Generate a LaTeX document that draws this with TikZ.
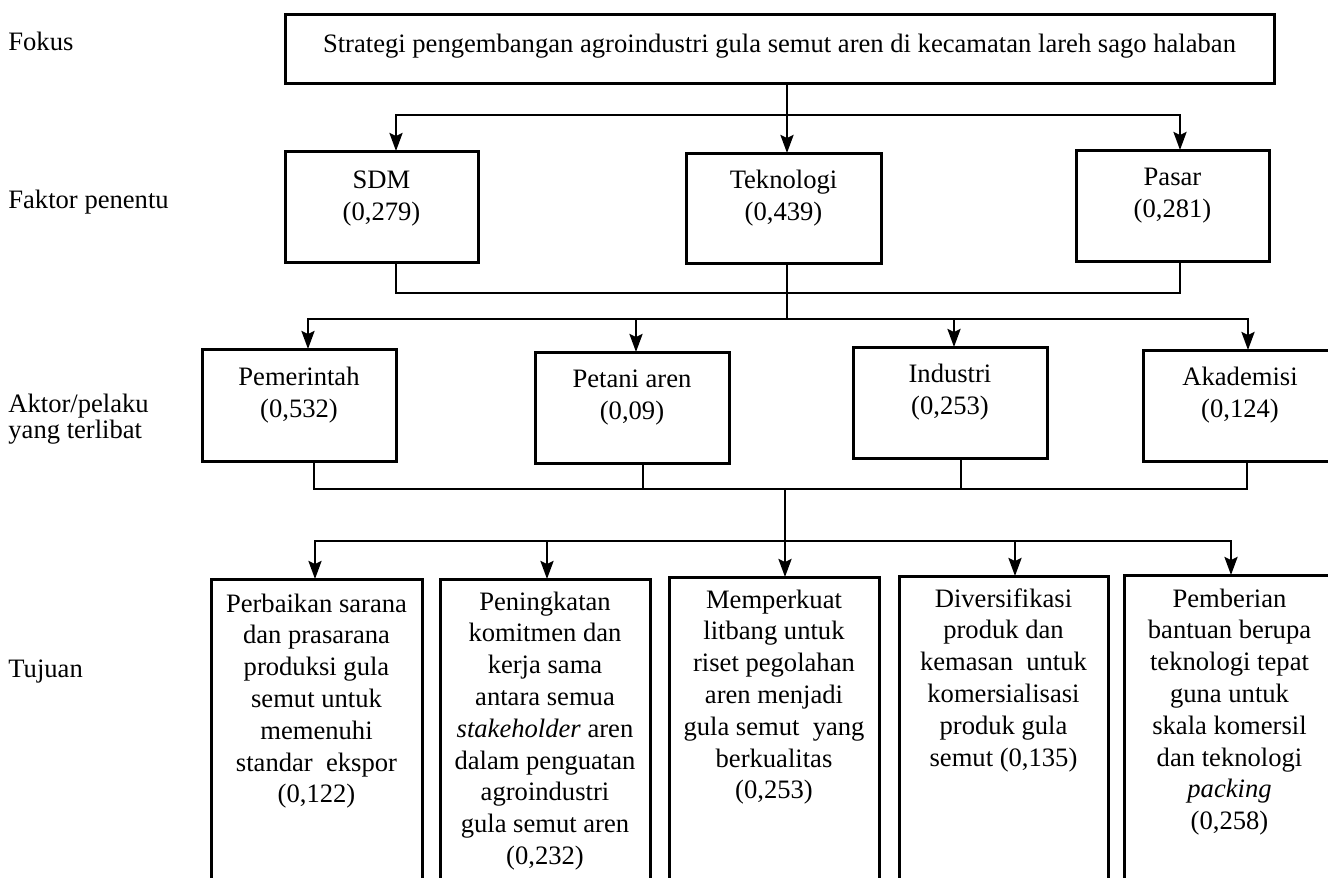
\documentclass[tikz,border=0pt]{standalone}
\usepackage{fontspec}
\setmainfont{Liberation Serif}
\usetikzlibrary{arrows.meta}
\newcommand\bxt[4]{\parbox[c][#2][t]{#1}{\centering\rule{0pt}{#3}#4}}
\begin{document}
\begin{tikzpicture}[x=0.5pt,y=-0.5pt,
  every node/.style={font=\fontsize{13.3pt}{16pt}\selectfont},
  box/.style={draw, line width=1.5pt, inner sep=0pt, outer sep=0pt, anchor=north west},
  tbx/.style={box, font=\fontsize{13.3pt}{15.9pt}\selectfont},
  conn/.style={line width=1.3pt, line cap=rect},
  arr/.style={line width=1.3pt, -{Stealth[length=9pt,width=6.5pt,inset=1.5pt]}},
  lbl/.style={anchor=base west, inner sep=0pt}]
\useasboundingbox (0,0) rectangle (1328,878);
\fill[white] (0,0) rectangle (1328,878);
\clip (0,0) rectangle (1328,878);

% left labels
\node[lbl] (lfok) at (8,50) {Fokus};
\node[lbl] (lfak) at (8,208) {Faktor penentu};
\node[lbl] (lakt) at (8,412) {\parbox[t]{120pt}{\baselineskip=11.6pt Aktor/pelaku\\yang terlibat}};
\node[lbl] (ltuj) at (8,677) {Tujuan};

% focus
\node[box] (focus) at (285,14) {\bxt{494.5pt}{34.5pt}{19pt}{Strategi pengembangan agroindustri gula semut aren di kecamatan lareh sago halaban}};

% factors
\node[box] (sdm) at (285,151) {\bxt{96.5pt}{55.5pt}{18.5pt}{SDM\\(0,279)}};
\node[box] (tek) at (686,153) {\bxt{97.5pt}{55pt}{17.5pt}{Teknologi\\(0,439)}};
\node[box] (pasar) at (1076,150) {\bxt{96.5pt}{55.5pt}{17.5pt}{Pasar\\(0,281)}};

% actors
\node[box] (pem) at (202,349) {\bxt{97pt}{56pt}{18pt}{Pemerintah\\(0,532)}};
\node[box] (pet) at (535,352) {\bxt{97pt}{55.5pt}{17.5pt}{Petani aren\\(0,09)}};
\node[box] (ind) at (853,347) {\bxt{97pt}{55.5pt}{17.5pt}{Industri\\(0,253)}};
\node[box] (aka) at (1143,350) {\bxt{97pt}{55.5pt}{17.5pt}{Akademisi\\(0,124)}};

% goals
\node[tbx] (t1) at (211,579) {\bxt{105.5pt}{165pt}{16.5pt}{Perbaikan sarana\\dan prasarana\\produksi gula\\semut untuk\\memenuhi\\standar\ \ ekspor\\(0,122)}};
\node[tbx] (t2) at (440,579) {\bxt{105pt}{165pt}{15.5pt}{Peningkatan\\komitmen dan\\kerja sama\\antara semua\\\textit{stakeholder} aren\\dalam penguatan\\agroindustri\\gula semut aren\\(0,232)}};
\node[tbx] (t3) at (669,577) {\bxt{105pt}{165pt}{15.5pt}{Memperkuat\\litbang untuk\\riset pegolahan\\aren menjadi\\gula semut\ \ yang\\berkualitas\\(0,253)}};
\node[tbx] (t4) at (899,576) {\bxt{104.5pt}{165pt}{15.5pt}{Diversifikasi\\produk dan\\kemasan\ \ untuk\\komersialisasi\\produk gula\\semut (0,135)}};
\node[tbx] (t5) at (1124,575) {\bxt{105.5pt}{165pt}{16pt}{Pemberian\\bantuan berupa\\teknologi tepat\\guna untuk\\skala komersil\\dan teknologi\\\textit{packing}\\(0,258)}};

% level 1 connectors
\coordinate (c1) at (787,115);
\coordinate (h1l) at (396,115);
\coordinate (h1r) at (1180,115);
\draw[conn] (focus.south -| c1) -- (c1);
\draw[conn] (h1l) -- (h1r);
\draw[arr] (h1l) -- (sdm.north -| h1l);
\draw[arr] (c1) -- (tek.north -| c1);
\draw[arr] (h1r) -- (pasar.north -| h1r);

% level 2 connectors
\coordinate (b1l) at (396,293);
\coordinate (b1r) at (1180,293);
\draw[conn] (sdm.south -| b1l) -- (b1l) -- (b1r) -- (pasar.south -| b1r);
\coordinate (c2) at (787,319);
\draw[conn] (tek.south -| c2) -- (c2);
\coordinate (h2a) at (308,319);
\coordinate (h2b) at (636,319);
\coordinate (h2c) at (954,319);
\coordinate (h2d) at (1248,319);
\draw[conn] (h2a) -- (h2d);
\draw[arr] (h2a) -- (pem.north -| h2a);
\draw[arr] (h2b) -- (pet.north -| h2b);
\draw[arr] (h2c) -- (ind.north -| h2c);
\draw[arr] (h2d) -- (aka.north -| h2d);

% level 3 connectors
\coordinate (b2a) at (314,489);
\coordinate (b2b) at (643,489);
\coordinate (b2c) at (961,489);
\coordinate (b2d) at (1247,489);
\draw[conn] (pem.south -| b2a) -- (b2a) -- (b2d) -- (aka.south -| b2d);
\draw[conn] (pet.south -| b2b) -- (b2b);
\draw[conn] (ind.south -| b2c) -- (b2c);
\coordinate (c3t) at (785,489);
\coordinate (c3) at (785,541);
\draw[conn] (c3t) -- (c3);
\coordinate (h3a) at (315,541);
\coordinate (h3b) at (547,541);
\coordinate (h3d) at (1015,541);
\coordinate (h3e) at (1231,541);
\draw[conn] (h3a) -- (h3e);
\draw[arr] (h3a) -- (t1.north -| h3a);
\draw[arr] (h3b) -- (t2.north -| h3b);
\draw[arr] (c3) -- (t3.north -| c3);
\draw[arr] (h3d) -- (t4.north -| h3d);
\draw[arr] (h3e) -- (t5.north -| h3e);
\end{tikzpicture}
\end{document}
